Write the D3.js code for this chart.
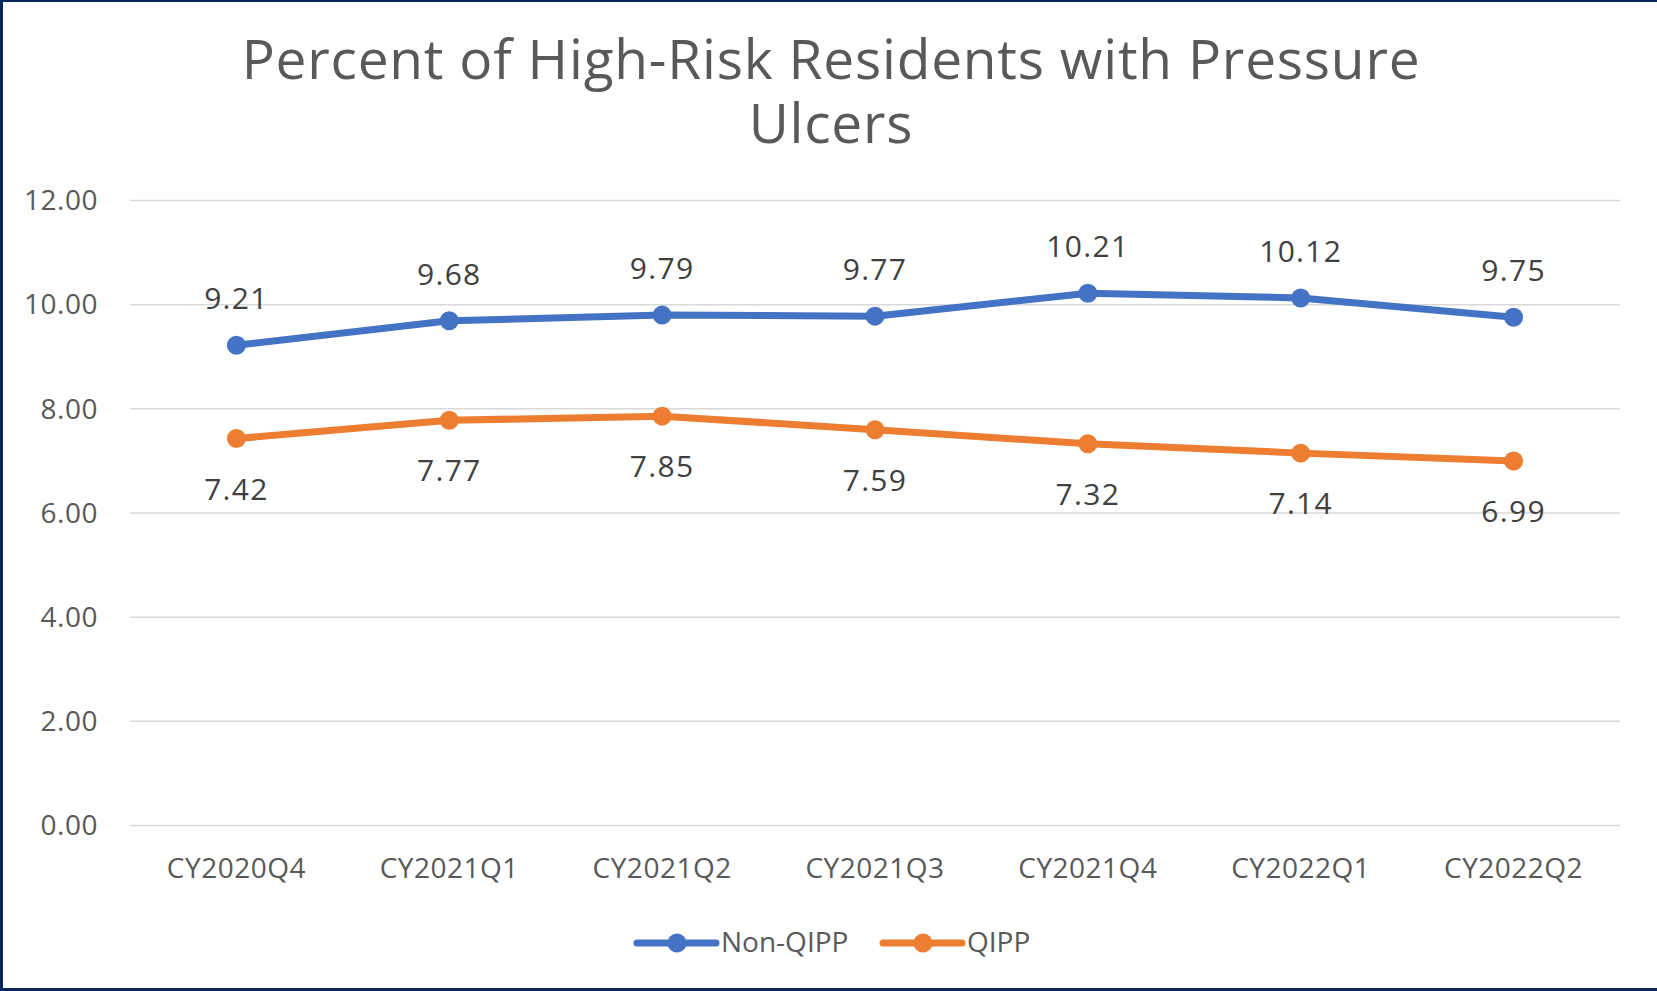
<!DOCTYPE html>
<html>
<head>
<meta charset="utf-8">
<script src="https://cdn.jsdelivr.net/npm/d3@7"></script>
<style>
  html, body { margin: 0; padding: 0; background: #ffffff; }
  svg { display: block; }
  text { font-family: "Open Sans", Lato, sans-serif; }
</style>
</head>
<body>
<svg id="chart" width="1657" height="991"></svg>
<script>
// Quarterly data
const categories = ["CY2020Q4", "CY2021Q1", "CY2021Q2", "CY2021Q3", "CY2021Q4", "CY2022Q1", "CY2022Q2"];
const nonQippValues = [9.21, 9.68, 9.79, 9.77, 10.21, 10.12, 9.75];
const qippValues = [7.42, 7.77, 7.85, 7.59, 7.32, 7.14, 6.99];
const yTicks = [0, 2, 4, 6, 8, 10, 12];
const titleLines = ["Percent of High-Risk Residents with Pressure", "Ulcers"];

const series = [
  { name: "Non-QIPP", values: nonQippValues, color: "#4472C4", labelPos: "above" },
  { name: "QIPP", values: qippValues, color: "#ED7D31", labelPos: "below" }
];

const W = 1657, H = 991;
const plot = { left: 130, right: 1620, top: 200, bottom: 825 };
const textColor = "#595959";
const fontFamily = "'Open Sans', Lato, sans-serif";
const lineWidth = 7;
const markerR = 9.5;

const svg = d3.select("#chart");

// Frame
svg.append("rect").attr("x", 0).attr("y", 0).attr("width", W).attr("height", H).attr("fill", "#ffffff");
const frameColor = "#0b2658";
svg.append("rect").attr("x", 0).attr("y", 0).attr("width", 3).attr("height", H).attr("fill", frameColor);
svg.append("rect").attr("x", 0).attr("y", 0).attr("width", W).attr("height", 2).attr("fill", frameColor);
svg.append("rect").attr("x", 0).attr("y", H - 3).attr("width", W).attr("height", 3).attr("fill", frameColor);

// Scales
const x = d3.scaleBand().domain(categories).range([plot.left, plot.right]).padding(0);
const y = d3.scaleLinear().domain([0, 12]).range([plot.bottom, plot.top]);
const cx = d => x(d) + x.bandwidth() / 2;

// Title (two lines in one text element)
const title = svg.append("text")
  .attr("fill", textColor)
  .attr("text-anchor", "middle")
  .attr("font-size", 55)
  .attr("letter-spacing", 0.8)
  .attr("y", 79);
titleLines.forEach((line, i) => {
  title.append("tspan")
    .attr("x", 831)
    .attr("dy", i === 0 ? 0 : 64)
    .text(line);
});

// Gridlines and y-axis labels
const yAxis = d3.axisLeft(y)
  .tickValues(yTicks)
  .tickSize(-(plot.right - plot.left))
  .tickPadding(32)
  .tickFormat(d3.format(".2f"));
const yg = svg.append("g").attr("transform", `translate(${plot.left},0)`).call(yAxis);
yg.select(".domain").remove();
yg.selectAll(".tick line").attr("stroke", "#d9d9d9").attr("stroke-width", 1.5);
yg.selectAll(".tick text")
  .attr("fill", textColor)
  .attr("font-size", 28)
  .attr("letter-spacing", 0.5)
  .attr("font-family", fontFamily)
  .attr("dy", "0.35em");

// Category axis labels
const xAxis = d3.axisBottom(x).tickSize(0).tickPadding(33);
const xg = svg.append("g").attr("transform", `translate(0,${plot.bottom})`).call(xAxis);
xg.select(".domain").remove();
xg.selectAll(".tick text")
  .attr("fill", textColor)
  .attr("font-size", 28)
  .attr("letter-spacing", 0.5)
  .attr("font-family", fontFamily);

// Lines, markers, value labels
const line = d3.line().x((d, i) => cx(categories[i])).y(d => y(d));
series.forEach(s => {
  const g = svg.append("g");
  g.append("path")
    .attr("d", line(s.values))
    .attr("fill", "none")
    .attr("stroke", s.color)
    .attr("stroke-width", lineWidth)
    .attr("stroke-linejoin", "round")
    .attr("stroke-linecap", "round");
  g.selectAll("circle").data(s.values).join("circle")
    .attr("cx", (d, i) => cx(categories[i]))
    .attr("cy", d => y(d))
    .attr("r", markerR)
    .attr("fill", s.color);
  g.selectAll("text").data(s.values).join("text")
    .attr("x", (d, i) => cx(categories[i]))
    .attr("y", d => s.labelPos === "above" ? y(d) - 36 : y(d) + 61)
    .attr("text-anchor", "middle")
    .attr("font-size", 30)
    .attr("letter-spacing", 1.3)
    .attr("fill", "#404040")
    .text(d => d.toFixed(2));
});

// Legend
const legendItems = [
  { s: series[0], x0: 637 },
  { s: series[1], x0: 883 }
];
const legendY = 943;
legendItems.forEach(({ s, x0 }) => {
  const g = svg.append("g");
  g.append("line")
    .attr("x1", x0).attr("x2", x0 + 79)
    .attr("y1", legendY).attr("y2", legendY)
    .attr("stroke", s.color).attr("stroke-width", lineWidth).attr("stroke-linecap", "round");
  g.append("circle").attr("cx", x0 + 40).attr("cy", legendY).attr("r", markerR).attr("fill", s.color);
  g.append("text")
    .attr("x", x0 + 84).attr("y", legendY + 9)
    .attr("font-size", 28)
    .attr("fill", textColor)
    .text(s.name);
});
</script>
</body>
</html>
